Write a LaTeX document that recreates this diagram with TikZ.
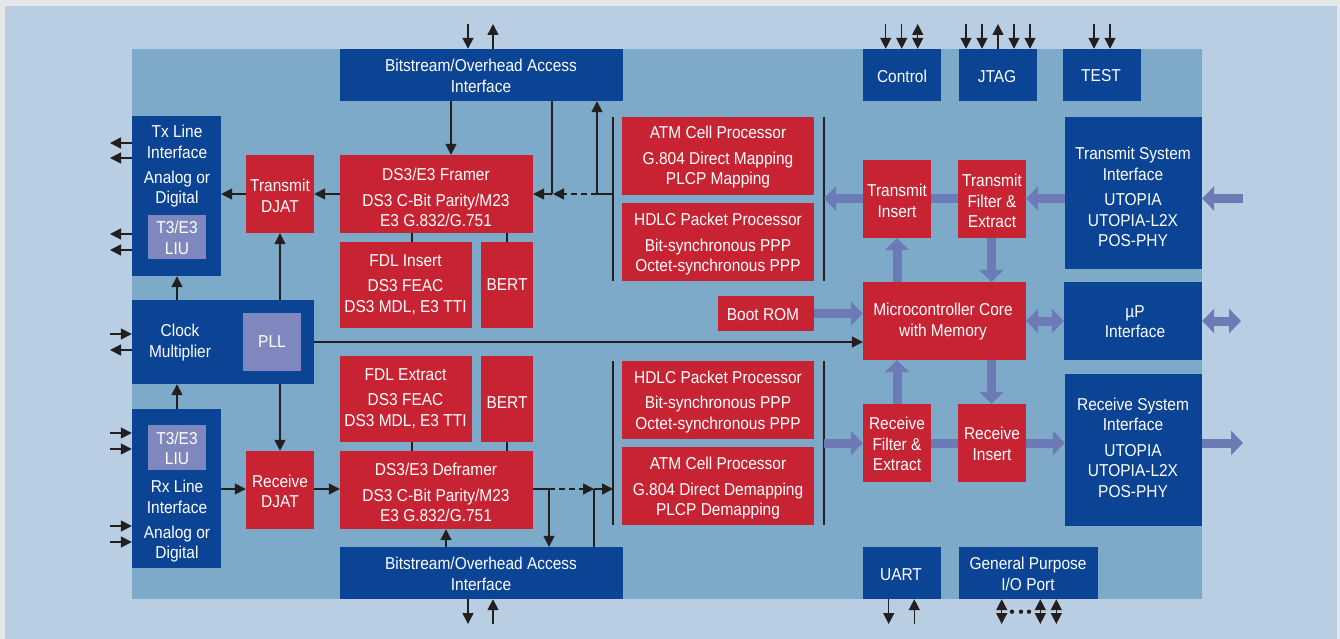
\documentclass[tikz,border=0pt]{standalone}
\usepackage{fontspec}
\setmainfont[FakeStretch=0.9]{Liberation Sans}
\usetikzlibrary{arrows.meta,calc}
\definecolor{pagegray}{HTML}{E6E7E8}
\definecolor{outerblue}{HTML}{B9CEE2}
\definecolor{panelblue}{HTML}{7EAAC9}
\definecolor{navy}{HTML}{0B4494}
\definecolor{redbox}{HTML}{C82333}
\definecolor{liubox}{HTML}{7F88BE}
\definecolor{thickc}{HTML}{6C7AB5}
\definecolor{thinc}{HTML}{231F20}
\tikzset{
  x=1pt,y=-1pt,
  thin arrow/.style={draw=thinc,line width=1.5pt,
    arrows={-Triangle[length=11pt,width=11pt]}},
  thin both/.style={draw=thinc,line width=1.5pt,
    arrows={Triangle[length=11pt,width=11pt]-Triangle[length=11pt,width=11pt]}},
  thin line/.style={draw=thinc,line width=1.5pt},
  thin dash/.style={draw=thinc,line width=1.5pt,dash pattern=on 6pt off 4pt},
  thick arrow/.style={draw=thickc,line width=9pt,
    arrows={-Triangle[length=12pt,width=24pt]}},
  thick both/.style={draw=thickc,line width=9pt,
    arrows={Triangle[length=12pt,width=24pt]-Triangle[length=12pt,width=24pt]}},
  thick line/.style={draw=thickc,line width=9pt},
  labeltext/.style={text=white,align=center,inner sep=0pt,
    font=\fontsize{17.2}{20.5}\selectfont},
  bar/.style={draw=thinc,line width=1.5pt},
}
% \bx{name}{x1}{y1}{x2}{y2}{colour}
\newcommand{\bx}[6]{\path[fill=#6] (#2,#3) rectangle (#4,#5);
  \node[inner sep=0pt,minimum width=#4pt-#2pt,minimum height=#5pt-#3pt] (#1) at ({(#2+#4)/2},{(#3+#5)/2}) {};}
% \tx{name}{x}{y}{text}
\newcommand{\tx}[4]{\node[labeltext] (#1) at (#2,#3+0.8) {#4};}
\begin{document}
\begin{tikzpicture}
\useasboundingbox (0,0) rectangle (1340,639);
\fill[pagegray] (0,0) rectangle (1340,639);
\fill[outerblue] (5,6) rectangle (1337,639);
\fill[panelblue] (132,49) rectangle (1202,599);

% Boxes
\bx{bitTop}{340}{49}{623}{101}{navy}
\bx{txLine}{132}{116}{221}{276}{navy}
\bx{liuTop}{148}{215}{206}{259}{liubox}
\bx{txDjat}{246}{155}{314}{233}{redbox}
\bx{framer}{340}{155}{533}{233}{redbox}
\bx{fdlIns}{340}{242}{472}{328}{redbox}
\bx{bertTop}{481}{242}{533}{328}{redbox}
\bx{clock}{132}{300}{314}{384}{navy}
\bx{pll}{243}{313}{301}{371}{liubox}
\bx{rxLine}{132}{409}{221}{568}{navy}
\bx{liuBot}{148}{425}{206}{470}{liubox}
\bx{rxDjat}{246}{451}{314}{529}{redbox}
\bx{fdlExt}{340}{356}{472}{442}{redbox}
\bx{bertBot}{481}{356}{533}{442}{redbox}
\bx{deframer}{340}{451}{533}{529}{redbox}
\bx{bitBot}{340}{547}{623}{599}{navy}
\bx{atmTop}{622}{117}{814}{195}{redbox}
\bx{hdlcTop}{622}{203}{814}{281}{redbox}
\bx{hdlcBot}{622}{361}{814}{439}{redbox}
\bx{atmBot}{622}{447}{814}{525}{redbox}
\bx{boot}{718}{296}{814}{331}{redbox}
\bx{txIns}{863}{160}{931}{238}{redbox}
\bx{txFilt}{958}{160}{1026}{238}{redbox}
\bx{micro}{863}{282}{1026}{360}{redbox}
\bx{control}{863}{49}{941}{101}{navy}
\bx{jtag}{959}{49}{1037}{101}{navy}
\bx{test}{1063}{49}{1141}{101}{navy}
\bx{txSys}{1065}{117}{1202}{269}{navy}
\bx{up}{1064}{282}{1202}{360}{navy}
\bx{rxSys}{1065}{374}{1202}{526}{navy}
\bx{rxFilt}{863}{404}{931}{482}{redbox}
\bx{rxIns}{958}{404}{1026}{482}{redbox}
\bx{uart}{863}{547}{941}{599}{navy}
\bx{gpio}{959}{547}{1098}{599}{navy}

% Named free ends and junctions
\coordinate (jA) at (552,194);
\coordinate (jB) at (597,194);
\coordinate (jC) at (613,194);
\coordinate (jD) at (565,194);
\coordinate (jE) at (549,489);
\coordinate (jF) at (584,489);
\coordinate (jG) at (594,489);
\coordinate (jH) at (613,489);
\coordinate (vA1) at (613,117); \coordinate (vA2) at (613,281);
\coordinate (vB1) at (613,361); \coordinate (vB2) at (613,525);
\coordinate (vC1) at (824,117); \coordinate (vC2) at (824,281);
\coordinate (vD1) at (824,361); \coordinate (vD2) at (824,525);

% Vertical separators
\draw[bar] (vA1) -- (vA2);
\draw[bar] (vB1) -- (vB2);
\draw[bar] (vC1) -- (vC2);
\draw[bar] (vD1) -- (vD2);

% Thin arrows, top
\foreach \n/\cx in {a/468} {\coordinate (o\n) at (\cx,24); \draw[thin arrow] (o\n) -- (o\n |- bitTop.north);}
\coordinate (ob) at (493,24); \draw[thin arrow] (ob |- bitTop.north) -- (ob);
\foreach \n/\cx in {c/885.7,d/901.7} {\coordinate (o\n) at (\cx,24); \draw[thin arrow] (o\n) -- (o\n |- control.north);}
\coordinate (oe) at (917.7,24); \draw[thin both] (oe) -- (oe |- control.north);
\foreach \n/\cx in {f/966,g/982,i/1014,j/1030} {\coordinate (o\n) at (\cx,24); \draw[thin arrow] (o\n) -- (o\n |- jtag.north);}
\coordinate (oh) at (998,24); \draw[thin arrow] (oh |- jtag.north) -- (oh);
\foreach \n/\cx in {k/1094,l/1110} {\coordinate (o\n) at (\cx,24); \draw[thin arrow] (o\n) -- (o\n |- test.north);}

% Thin arrows, bottom
\coordinate (pa) at (468,624); \draw[thin arrow] (pa |- bitBot.south) -- (pa);
\coordinate (pb) at (493,624); \draw[thin arrow] (pb) -- (pb |- bitBot.south);
\coordinate (pc) at (888.7,624); \draw[thin arrow] (pc |- uart.south) -- (pc);
\coordinate (pd) at (914.3,624); \draw[thin arrow] (pd) -- (pd |- uart.south);
\foreach \n/\cx in {e/1001.7,f/1040.3,g/1056.3} {\coordinate (p\n) at (\cx,624); \draw[thin both] (p\n) -- (p\n |- gpio.south);}
\foreach \cx in {1012,1021,1029} \fill[thinc] (\cx,611.7) circle (2.2);

% Thin arrows, left
\foreach \n/\cy in {a/143,b/158,c/234,d/250} {\coordinate (l\n) at (110,\cy); \draw[thin arrow] (l\n -| txLine.west) -- (l\n);}
\coordinate (le) at (110,334); \draw[thin arrow] (le) -- (le -| clock.west);
\coordinate (lf) at (110,350); \draw[thin arrow] (lf -| clock.west) -- (lf);
\foreach \n/\cy in {g/433,h/449,i/526,j/542} {\coordinate (l\n) at (110,\cy); \draw[thin arrow] (l\n) -- (l\n -| rxLine.west);}

% Inner thin connectors, upper half
\draw[thin arrow] (txDjat.west) -- (txDjat.west -| txLine.east);
\draw[thin arrow] (framer.west |- txDjat.west) -- (txDjat.east);
\coordinate (xa) at (451,101); \draw[thin arrow] (xa) -- (xa |- framer.north);
\draw[thin line] (jA |- bitTop.south) -- (jA);
\draw[thin arrow] (jB) -- (jB |- bitTop.south);
\draw[thin line] (jC) -- (jB);
\draw[thin dash] (jB) -- (jD);
\draw[thin arrow] (jD) -- ($(jA)+(1,0)$);
\draw[thin arrow] (jA) -- (jA -| framer.east);
\coordinate (xb) at (412,233); \draw[thin line] (xb) -- (xb |- fdlIns.north);
\coordinate (xc) at (507,233); \draw[thin line] (xc) -- (xc |- bertTop.north);
\coordinate (xd) at (177,300); \draw[thin arrow] (xd) -- (xd |- txLine.south);
\coordinate (xe) at (280,300); \draw[thin arrow] (xe) -- (xe |- txDjat.south);

% Clock line
\coordinate (xf) at (314,342); \draw[thin arrow] (xf) -- (xf -| micro.west);

% Inner thin connectors, lower half
\coordinate (xg) at (177,409); \draw[thin arrow] (xg) -- (xg |- clock.south);
\coordinate (xh) at (280,384); \draw[thin arrow] (xh) -- (xh |- rxDjat.north);
\coordinate (xl) at (221,489); \draw[thin arrow] (xl) -- (xl -| rxDjat.west);
\coordinate (xm) at (314,489); \draw[thin arrow] (xm) -- (xm -| deframer.west);
\coordinate (xi) at (412,442); \draw[thin line] (xi) -- (xi |- deframer.north);
\coordinate (xj) at (507,442); \draw[thin line] (xj) -- (xj |- deframer.north);
\draw[thin line] (jE -| deframer.east) -- (jE);
\draw[thin dash] (jE) -- (jF);
\draw[thin arrow] (jF) -- (jG);
\draw[thin arrow] (jG) -- (jH);
\draw[thin arrow] (jE) -- (jE |- bitBot.north);
\draw[thin line] (jG |- bitBot.north) -- (jG);
\coordinate (xk) at (446,547); \draw[thin arrow] (xk) -- (xk |- deframer.south);

% Thick arrows
\coordinate (ya) at (824,198.5); \draw[thick arrow] (ya -| txIns.west) -- (ya);
\draw[thick line] (ya -| txFilt.west) -- (ya -| txIns.east);
\draw[thick arrow] (ya -| txSys.west) -- (ya -| txFilt.east);
\coordinate (yb) at (1243,198.5); \draw[thick arrow] (yb) -- (yb -| txSys.east);
\coordinate (yc) at (897,282); \draw[thick arrow] (yc) -- (yc |- txIns.south);
\coordinate (yd) at (991.5,238); \draw[thick arrow] (yd) -- (yd |- micro.north);
\coordinate (ye) at (814,313.5); \draw[thick arrow] (ye) -- (ye -| micro.west);
\coordinate (yf) at (1241,321); \draw[thick both] (yf -| micro.east) -- (yf -| up.west);
\draw[thick both] (yf -| up.east) -- (yf);
\coordinate (yg) at (897,404); \draw[thick arrow] (yg) -- (yg |- micro.south);
\coordinate (yh) at (991.5,360); \draw[thick arrow] (yh) -- (yh |- rxIns.north);
\coordinate (yi) at (824,443); \draw[thick arrow] (yi) -- (yi -| rxFilt.west);
\draw[thick line] (yi -| rxFilt.east) -- (yi -| rxIns.west);
\draw[thick arrow] (yi -| rxIns.east) -- (yi -| rxSys.west);
\coordinate (yj) at (1243,443); \draw[thick arrow] (yj -| rxSys.east) -- (yj);

% Labels
\tx{tBitTop}{481}{75}{Bitstream/Overhead Access\\Interface}
\tx{tTxLine}{177}{165.5}{Tx Line\\Interface\\[4.5pt]Analog or\\Digital}
\tx{tLiuTop}{177}{237}{T3/E3\\LIU}
\tx{tTxDjat}{280}{195}{Transmit\\DJAT}
\tx{tFramer}{436}{197}{DS3/E3 Framer\\[5pt]DS3 C-Bit Parity/M23\\E3 G.832/G.751}
\tx{tFdlIns}{405.5}{283.5}{FDL Insert\\[5pt]DS3 FEAC\\DS3 MDL, E3 TTI}
\tx{tBertTop}{507}{284}{BERT}
\tx{tClock}{180}{342}{Clock\\Multiplier}
\tx{tPll}{272}{341}{PLL}
\tx{tLiuBot}{177}{447.5}{T3/E3\\LIU}
\tx{tRxLine}{177}{520.5}{Rx Line\\Interface\\[4.5pt]Analog or\\Digital}
\tx{tRxDjat}{280}{490.5}{Receive\\DJAT}
\tx{tFdlExt}{405.5}{397.5}{FDL Extract\\[5pt]DS3 FEAC\\DS3 MDL, E3 TTI}
\tx{tBertBot}{507}{402}{BERT}
\tx{tDeframer}{436}{492}{DS3/E3 Deframer\\[5pt]DS3 C-Bit Parity/M23\\E3 G.832/G.751}
\tx{tBitBot}{481}{573}{Bitstream/Overhead Access\\Interface}
\tx{tAtmTop}{718}{156.5}{ATM Cell Processor\\[5pt]G.804 Direct Mapping\\PLCP Mapping}
\tx{tHdlcTop}{718}{243.5}{HDLC Packet Processor\\[5pt]Bit-synchronous PPP\\Octet-synchronous PPP}
\tx{tHdlcBot}{718}{401}{HDLC Packet Processor\\[5pt]Bit-synchronous PPP\\Octet-synchronous PPP}
\tx{tAtmBot}{718}{487.5}{ATM Cell Processor\\[5pt]G.804 Direct Demapping\\PLCP Demapping}
\tx{tBoot}{763}{314}{Boot ROM}
\tx{tTxIns}{897}{200}{Transmit\\Insert}
\tx{tTxFilt}{992}{200.5}{Transmit\\Filter \&\\Extract}
\tx{tMicro}{943}{321}{Microcontroller Core\\with Memory}
\tx{tControl}{902}{76}{Control}
\tx{tJtag}{997}{76}{JTAG}
\tx{tTest}{1101}{75}{TEST}
\tx{tTxSys}{1133}{196.5}{Transmit System\\Interface\\[5pt]UTOPIA\\UTOPIA-L2X\\POS-PHY}
\tx{tUp}{1135}{321}{µP\\Interface}
\tx{tRxSys}{1133}{447}{Receive System\\Interface\\[5pt]UTOPIA\\UTOPIA-L2X\\POS-PHY}
\tx{tRxFilt}{897}{443.5}{Receive\\Filter \&\\Extract}
\tx{tRxIns}{992}{443}{Receive\\Insert}
\tx{tUart}{901}{574}{UART}
\tx{tGpio}{1028}{573}{General Purpose\\I/O Port}
\end{tikzpicture}
\end{document}
